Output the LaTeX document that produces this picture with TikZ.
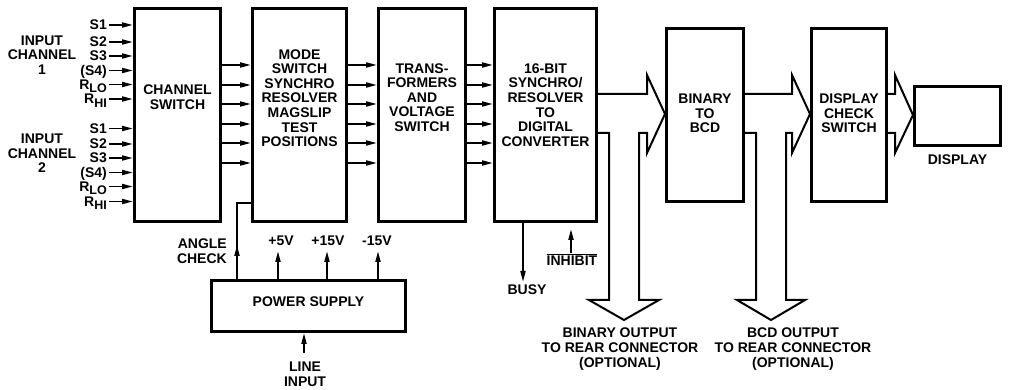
\documentclass[tikz,border=0pt]{standalone}
\usepackage{fontspec}
\setmainfont{Liberation Sans}
\usetikzlibrary{arrows.meta}
\begin{document}
\begin{tikzpicture}[x=1pt,y=-1pt,
  txt/.style={font=\bfseries\fontsize{14}{14.6}\selectfont, inner sep=0pt, align=center},
  lab/.style={txt, text height=10pt, text depth=0pt, anchor=east},
  box/.style={draw, line width=3.4pt, inner sep=0pt},
  ln/.style={line width=2pt},
  arr/.style={line width=1.9pt, -{Triangle[length=11pt,width=5pt]}},
  bus/.style={line width=2pt, line join=miter}]
\path[use as bounding box] (0,0) rectangle (1013,390);

% main boxes
\node[box, minimum width=85.6pt, minimum height=212.6pt] (cs) at (177.5,115) {};
\node[box, minimum width=93.6pt, minimum height=212.6pt] (ms) at (299.5,115) {};
\node[box, minimum width=86.6pt, minimum height=212.6pt] (tv) at (422,115) {};
\node[box, minimum width=101.6pt, minimum height=212.6pt] (cv) at (545.5,115) {};
\node[box, minimum width=76.6pt, minimum height=172.6pt] (bb) at (705,115) {};
\node[box, minimum width=74.6pt, minimum height=172.6pt] (dc) at (849,115) {};
\node[box, minimum width=85.6pt, minimum height=58.6pt] (dp) at (957.5,116) {};
\node[box, minimum width=193.6pt, minimum height=50.6pt] (ps) at (308.5,306) {};

% box texts
\node[txt] (cst) at (177.5,97) {CHANNEL\\SWITCH};
\node[txt] (mst) at (299.5,98) {MODE\\SWITCH\\SYNCHRO\\RESOLVER\\MAGSLIP\\TEST\\POSITIONS};
\node[txt] (tvt) at (422,97.5) {TRANS-\\FORMERS\\AND\\VOLTAGE\\SWITCH};
\node[txt] (cvt) at (545.5,105) {16-BIT\\SYNCHRO/\\RESOLVER\\TO\\DIGITAL\\CONVERTER};
\node[txt] (bbt) at (705,113.5) {BINARY\\TO\\BCD};
\node[txt] (dct) at (849,113.5) {DISPLAY\\CHECK\\SWITCH};
\node[txt] (dpt) at (957.5,160) {DISPLAY};
\node[txt] (pst) at (308.5,302) {POWER SUPPLY};

% input channels
\node[txt] (ic1) at (42,55) {INPUT\\CHANNEL\\1};
\node[txt] (ic2) at (42,153.5) {INPUT\\CHANNEL\\2};
\foreach \n/\y/\t in {a1/25/S1, a2/42/S2, a3/56/S3, a4/70.5/(S4),
    a5/84.5/R\raisebox{-3.5pt}{\fontsize{12.5}{12.5}\selectfont LO},
    a6/99/R\raisebox{-3.5pt}{\fontsize{12.5}{12.5}\selectfont HI},
    b1/128.5/S1, b2/144/S2, b3/158/S3, b4/172.5/(S4),
    b5/186.5/R\raisebox{-3.5pt}{\fontsize{12.5}{12.5}\selectfont LO},
    b6/201.5/R\raisebox{-3.5pt}{\fontsize{12.5}{12.5}\selectfont HI}}{
  \node[lab] (\n) at (107,\y) {\t};
  \draw[arr] ([xshift=2pt]\n.east) -- (cs.west |- \n.east);
}

% parallel arrows between boxes
\foreach \y in {65,85,104,124,143,163}{
  \draw[arr] (cs.east |- 0,\y) -- (ms.west |- 0,\y);
  \draw[arr] (ms.east |- 0,\y) -- (tv.west |- 0,\y);
  \draw[arr] (tv.east |- 0,\y) -- (cv.west |- 0,\y);
}

% bus arrows
\draw[bus] (cv.east |- 0,94) -- (647,94) -- (647,75) -- (bb.west |- 0,114)
  -- (647,153) -- (647,133) -- (639,133) -- (639,300) -- (659,300)
  -- (624,320) -- (589,300) -- (609,300) -- (609,133) -- (cv.east |- 0,133);
\draw[bus] (bb.east |- 0,94) -- (792,94) -- (792,75) -- (dc.west |- 0,114)
  -- (792,153) -- (792,133) -- (786,133) -- (786,300) -- (805,300)
  -- (771,320) -- (737,300) -- (756,300) -- (756,133) -- (bb.east |- 0,133);
\draw[bus] (dc.east |- 0,94) -- (895,94) -- (895,75) -- (dp.west |- 0,115)
  -- (895,153) -- (895,133) -- (dc.east |- 0,133);

\node[txt] (bo) at (620,349) {BINARY OUTPUT\\TO REAR CONNECTOR\\(OPTIONAL)};
\node[txt] (co) at (793,349) {BCD OUTPUT\\TO REAR CONNECTOR\\(OPTIONAL)};

% converter control lines
\node[txt] (busy) at (527,290) {BUSY};
\draw[arr] (cv.south -| 523,0) -- (523,282);
\node[txt] (inh) at (572,259.5) {$\overline{\mbox{INHIBIT}}$};
\draw[arr] (571,253) -- (571,229);

% power supply
\coordinate (acc) at (237,203);
\draw[ln] (ps.north -| acc) -- (acc) -- (ms.west |- acc);
\draw[arr] (237,262) -- (237,245);
\node[txt, align=right, anchor=east] (ang) at (227,251) {ANGLE\\CHECK};
\node[txt] (v1) at (281,241) {+5V};
\node[txt] (v2) at (328,241) {+15V};
\node[txt] (v3) at (377,241) {-15V};
\draw[arr] (ps.north -| 278,0) -- (278,251);
\draw[arr] (ps.north -| 327,0) -- (327,251);
\draw[arr] (ps.north -| 378,0) -- (378,251);
\node[txt] (li) at (305,374.5) {LINE\\INPUT};
\draw[arr] (304,353) -- (ps.south -| 304,0);
\end{tikzpicture}
\end{document}
